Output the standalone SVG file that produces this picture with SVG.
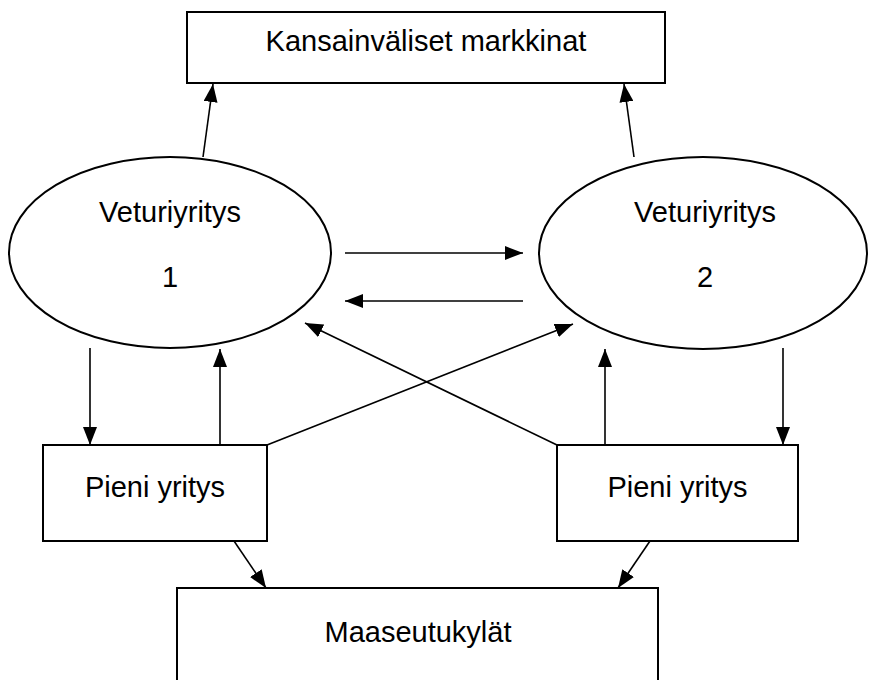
<svg xmlns="http://www.w3.org/2000/svg" width="869" height="680" viewBox="0 0 869 680">
<style>
.box{fill:#fff;stroke:#000;stroke-width:2}
.ell{fill:#fff;stroke:#000;stroke-width:2}
.t{font-family:"Liberation Sans",Arial,sans-serif;font-size:29px;fill:#000;text-anchor:middle}
.c{stroke:#000;stroke-width:1.6;fill:none;marker-end:url(#ah)}
</style>
<defs>
<marker id="ah" markerUnits="userSpaceOnUse" markerWidth="18" markerHeight="14" refX="18" refY="7" orient="auto">
<path d="M0,0 L18,7 L0,14 z" fill="#000"/>
</marker>
</defs>
<rect width="869" height="680" fill="#fff"/>
<g id="connectors">
<line class="c" x1="203" y1="157" x2="213" y2="84"/>
<line class="c" x1="634" y1="157" x2="624" y2="84"/>
<line class="c" x1="345" y1="253" x2="523" y2="253"/>
<line class="c" x1="523" y1="301" x2="345" y2="301"/>
<line class="c" x1="90" y1="348" x2="90" y2="445"/>
<line class="c" x1="220" y1="445" x2="220" y2="349"/>
<line class="c" x1="605" y1="445" x2="605" y2="349"/>
<line class="c" x1="783" y1="348" x2="783" y2="445"/>
<line class="c" x1="267" y1="445" x2="573" y2="324"/>
<line class="c" x1="557" y1="445" x2="305" y2="323"/>
<line class="c" x1="234" y1="541" x2="266" y2="588"/>
<line class="c" x1="650" y1="541" x2="618" y2="588"/>
</g>
<g id="kansainvaliset">
<rect class="box" x="187" y="12" width="478" height="71"/>
<text class="t" x="426" y="51">Kansainväliset markkinat</text>
</g>
<g id="veturi1">
<ellipse class="ell" cx="170" cy="252.5" rx="161" ry="95.5"/>
<text class="t" x="170" y="222">Veturiyritys</text>
<text class="t" x="170" y="287">1</text>
</g>
<g id="veturi2">
<ellipse class="ell" cx="703" cy="253" rx="164" ry="96"/>
<text class="t" x="705" y="222">Veturiyritys</text>
<text class="t" x="705" y="287">2</text>
</g>
<g id="pieni1">
<rect class="box" x="43" y="445" width="224" height="96"/>
<text class="t" x="155" y="497">Pieni yritys</text>
</g>
<g id="pieni2">
<rect class="box" x="557" y="445" width="241" height="96"/>
<text class="t" x="677.5" y="497">Pieni yritys</text>
</g>
<g id="maaseutu">
<rect class="box" x="177" y="588" width="481" height="110"/>
<text class="t" x="418" y="642">Maaseutukylät</text>
</g>
</svg>
